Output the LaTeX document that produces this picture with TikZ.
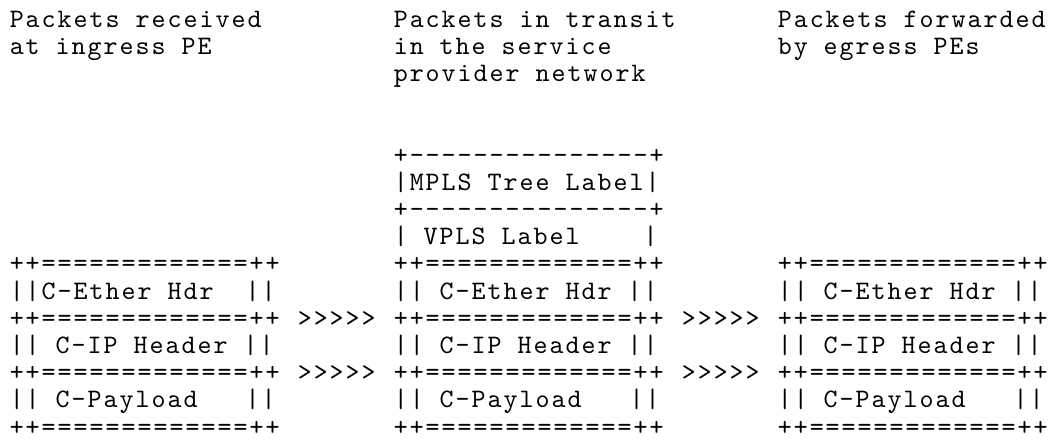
\documentclass[tikz,border=0pt]{standalone}
\usepackage{fontspec}
\setmonofont{lmmono10-regular.otf}[LetterSpace=7.5]

\tikzset{every picture/.style={line width=0.75pt}}

\begin{document}
\begin{tikzpicture}[
            x=8pt,
            y=13.6pt,
            yscale=-1,
            xscale=1,
            every node/.style={text=black, anchor=base west, inner sep=0pt, font=\fontsize{13.33pt}{13.6pt}\selectfont\ttfamily},
            line width=0.75pt
        ]
            \useasboundingbox (-0.0625,0) rectangle (65.8125,16.14);

            % column titles
            \draw (0.5,1) node (ingtitle) {Packets received};
            \draw (0.5,2) node (ingtitleb) {at ingress PE};
            \draw (24.5,1) node (trntitle) {Packets in transit};
            \draw (24.5,2) node (trntitleb) {in the service};
            \draw (24.5,3) node (trntitlec) {provider network};
            \draw (48.5,1) node (egrtitle) {Packets forwarded};
            \draw (48.5,2) node (egrtitleb) {by egress PEs};

            % extra labels in transit
            \draw (24.5,6) node (treetop) {+---------------+};
            \draw (24.5,7) node (treelbl) {|MPLS Tree Label|};
            \draw (24.5,8) node (treebot) {+---------------+};
            \draw (24.5,9) node (vplslbl) {| VPLS Label~~~~|};

            % ingress packet
            \draw (0.5,10) node (ingrule) {++=============++};
            \draw (0.5,11) node (ingeth) {||C-Ether Hdr~~||};
            \draw (0.5,12) node (ingrulb) {++=============++};
            \draw (0.5,13) node (ingip) {|| C-IP Header ||};
            \draw (0.5,14) node (ingrulc) {++=============++};
            \draw (0.5,15) node (ingpay) {|| C-Payload~~~||};
            \draw (0.5,16) node (ingruld) {++=============++};

            % transit packet
            \draw (24.5,10) node (trnrule) {++=============++};
            \draw (24.5,11) node (trneth) {|| C-Ether Hdr ||};
            \draw (24.5,12) node (trnrulb) {++=============++};
            \draw (24.5,13) node (trnip) {|| C-IP Header ||};
            \draw (24.5,14) node (trnrulc) {++=============++};
            \draw (24.5,15) node (trnpay) {|| C-Payload~~~||};
            \draw (24.5,16) node (trnruld) {++=============++};

            % egress packet
            \draw (48.5,10) node (egrrule) {++=============++};
            \draw (48.5,11) node (egreth) {|| C-Ether Hdr ||};
            \draw (48.5,12) node (egrrulb) {++=============++};
            \draw (48.5,13) node (egrip) {|| C-IP Header ||};
            \draw (48.5,14) node (egrrulc) {++=============++};
            \draw (48.5,15) node (egrpay) {|| C-Payload~~~||};
            \draw (48.5,16) node (egrruld) {++=============++};

            % forwarding marks
            \draw (18.5,12) node (fwda) {>>>>>};
            \draw (18.5,14) node (fwdb) {>>>>>};
            \draw (42.5,12) node (fwdc) {>>>>>};
            \draw (42.5,14) node (fwdd) {>>>>>};
        \end{tikzpicture}
\end{document}
